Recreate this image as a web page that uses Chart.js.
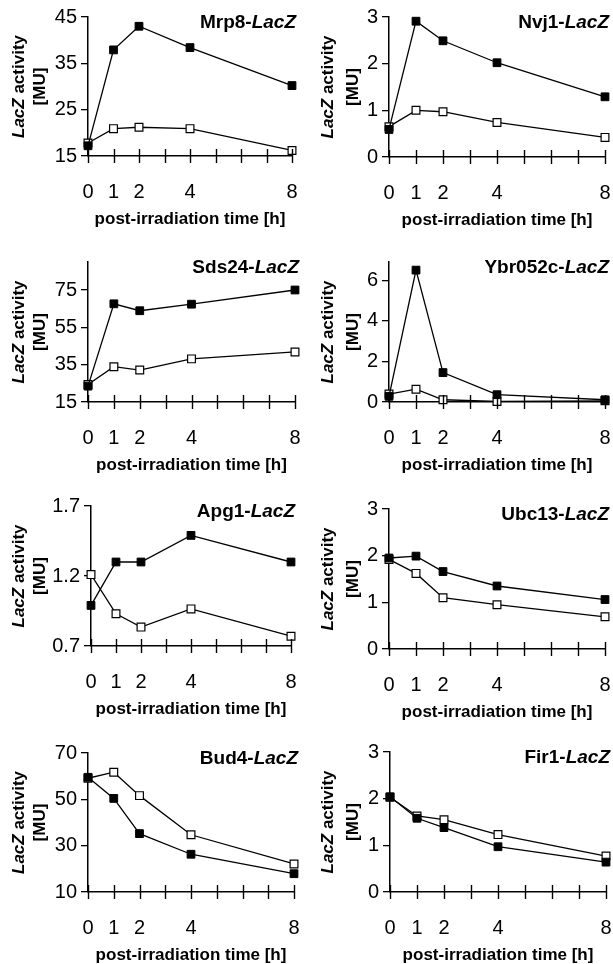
<!DOCTYPE html>
<html>
<head>
<meta charset="utf-8">
<script src="https://cdn.jsdelivr.net/npm/chart.js@4"></script>
<style>
  body { margin: 0; background: #fff; width: 613px; height: 964px; position: relative; overflow: hidden; }
  canvas { position: absolute; }
</style>
</head>
<body>
<script>
// time points and x ticks
const times = [0, 1, 2, 4, 8];
const xTickValues = [0, 1, 2, 3, 4, 5, 6, 7, 8];

// values (filled = black squares, open = white squares)
const mrp8Filled = [17.2, 37.9, 43.0, 38.4, 30.2];
const mrp8Open = [17.8, 20.9, 21.2, 20.9, 16.2];
const mrp8Ticks = [15, 25, 35, 45];

const nvj1Filled = [0.59, 2.91, 2.49, 2.02, 1.29];
const nvj1Open = [0.65, 1.0, 0.97, 0.74, 0.42];
const nvj1Ticks = [0, 1, 2, 3];

const sds24Filled = [23.5, 67.6, 63.9, 67.4, 75.0];
const sds24Open = [24.4, 33.9, 32.1, 38.1, 41.8];
const sds24Ticks = [15, 35, 55, 75];

const ybrFilled = [0.28, 6.5, 1.45, 0.36, 0.11];
const ybrOpen = [0.39, 0.63, 0.11, 0.03, 0.06];
const ybrTicks = [0, 2, 4, 6];

const apg1Filled = [0.99, 1.30, 1.30, 1.49, 1.30];
const apg1Open = [1.21, 0.93, 0.835, 0.965, 0.77];
const apg1Ticks = [0.7, 1.2, 1.7];

const ubc13Filled = [1.95, 1.99, 1.66, 1.35, 1.06];
const ubc13Open = [1.92, 1.62, 1.10, 0.95, 0.69];
const ubc13Ticks = [0, 1, 2, 3];

const bud4Filled = [59.5, 50.4, 35.2, 26.3, 17.9];
const bud4Open = [59.1, 61.7, 51.6, 34.7, 22.1];
const bud4Ticks = [10, 30, 50, 70];

const fir1Filled = [2.04, 1.58, 1.38, 0.97, 0.64];
const fir1Open = [2.03, 1.63, 1.55, 1.23, 0.77];
const fir1Ticks = [0, 1, 2, 3];

const FONT = '"Liberation Sans", Arial, Helvetica, sans-serif';

// panel layout (pixel positions of each plot area)
const panels = [
  { gene: 'Mrp8', filled: mrp8Filled, open: mrp8Open, ticks: mrp8Ticks, max: 45, col: 0, left: 88, right: 292, top: 17, bottom: 156 },
  { gene: 'Nvj1', filled: nvj1Filled, open: nvj1Open, ticks: nvj1Ticks, max: 3, col: 1, left: 389, right: 605, top: 15, bottom: 157 },
  { gene: 'Sds24', filled: sds24Filled, open: sds24Open, ticks: sds24Ticks, max: 90, col: 0, left: 88, right: 295, top: 260, bottom: 402 },
  { gene: 'Ybr052c', filled: ybrFilled, open: ybrOpen, ticks: ybrTicks, max: 6.9, col: 1, left: 389, right: 605, top: 261, bottom: 402 },
  { gene: 'Apg1', filled: apg1Filled, open: apg1Open, ticks: apg1Ticks, max: 1.7, col: 0, left: 91, right: 291, top: 505, bottom: 646 },
  { gene: 'Ubc13', filled: ubc13Filled, open: ubc13Open, ticks: ubc13Ticks, max: 3, col: 1, left: 389, right: 605, top: 504, bottom: 649 },
  { gene: 'Bud4', filled: bud4Filled, open: bud4Open, ticks: bud4Ticks, max: 70, col: 0, left: 88, right: 294, top: 753, bottom: 892 },
  { gene: 'Fir1', filled: fir1Filled, open: fir1Open, ticks: fir1Ticks, max: 3, col: 1, left: 390, right: 606, top: 751, bottom: 892 }
];

// crossing x tick marks, panel title and two-line y title
const decor = {
  id: 'decor',
  afterDraw(chart, args, opts) {
    const ctx = chart.ctx;
    const a = chart.chartArea;
    const x = chart.scales.x;
    ctx.save();
    ctx.strokeStyle = '#000';
    ctx.lineWidth = 1.4;
    xTickValues.forEach(v => {
      const px = Math.round(x.getPixelForValue(v)) + 0.5;
      ctx.beginPath();
      ctx.moveTo(px, a.bottom - 7);
      ctx.lineTo(px, a.bottom + 7);
      ctx.stroke();
    });

    ctx.fillStyle = '#000';
    ctx.textBaseline = 'middle';
    ctx.textAlign = 'left';
    const b19 = 'bold 19px ' + FONT, bi19 = 'italic bold 19px ' + FONT;
    ctx.font = bi19;
    const wLac = ctx.measureText('LacZ').width;
    ctx.font = b19;
    const pre = opts.gene + '-';
    const wPre = ctx.measureText(pre).width;
    const tr = a.right + 4, ty = a.top + 6;
    ctx.fillText(pre, tr - wLac - wPre, ty);
    ctx.font = bi19;
    ctx.fillText('LacZ', tr - wLac, ty);

    const b17 = 'bold 17px ' + FONT, bi17 = 'italic bold 17px ' + FONT;
    ctx.translate(opts.t1, (a.top + a.bottom) / 2);
    ctx.rotate(-Math.PI / 2);
    ctx.font = bi17;
    const w1 = ctx.measureText('LacZ').width;
    ctx.font = b17;
    const w2 = ctx.measureText(' activity').width;
    const start = -(w1 + w2) / 2;
    ctx.font = bi17;
    ctx.fillText('LacZ', start, 0);
    ctx.font = b17;
    ctx.fillText(' activity', start + w1, 0);
    ctx.textAlign = 'center';
    ctx.fillText('[MU]', 0, opts.t2 - opts.t1);
    ctx.restore();
  }
};

panels.forEach(p => {
  const cl = p.col === 0 ? 0 : 300;
  const cw = p.col === 0 ? 306 : 313;
  const ct = p.bottom - 156;
  const ch = 230;
  const cv = document.createElement('canvas');
  cv.width = cw; cv.height = ch;
  cv.style.left = cl + 'px';
  cv.style.top = ct + 'px';
  document.body.appendChild(cv);

  new Chart(cv, {
    type: 'line',
    data: {
      datasets: [
        {
          data: times.map((t, i) => ({ x: t, y: p.filled[i] })),
          borderColor: '#000', borderWidth: 1.3,
          pointStyle: 'rect', pointRadius: 5.5,
          pointBackgroundColor: '#000', pointBorderColor: '#000', pointBorderWidth: 1,
          clip: false, tension: 0
        },
        {
          data: times.map((t, i) => ({ x: t, y: p.open[i] })),
          borderColor: '#000', borderWidth: 1.3,
          pointStyle: 'rect', pointRadius: 5.5,
          pointBackgroundColor: '#fff', pointBorderColor: '#000', pointBorderWidth: 1.2,
          clip: false, tension: 0
        }
      ]
    },
    options: {
      responsive: false,
      animation: false,
      layout: { padding: { top: p.top - ct, right: cw - (p.right - cl), left: 0, bottom: 0 } },
      plugins: {
        legend: { display: false },
        tooltip: { enabled: false },
        decor: { gene: p.gene, t1: p.col === 0 ? 19 : 28, t2: p.col === 0 ? 40 : 53 }
      },
      scales: {
        x: {
          type: 'linear', min: 0, max: 8,
          afterBuildTicks: s => { s.ticks = xTickValues.map(v => ({ value: v })); },
          afterFit: s => { s.height = ch - (p.bottom - ct); },
          grid: { display: true, drawOnChartArea: false, drawTicks: true, tickLength: 24, tickColor: 'rgba(0,0,0,0)' },
          border: { display: true, color: '#000', width: 1.5 },
          ticks: {
            autoSkip: false, maxRotation: 0, padding: 0, color: '#000',
            font: { family: FONT, size: 20 },
            callback: v => times.includes(v) ? String(v) : ''
          },
          title: {
            display: true, text: 'post-irradiation time [h]', color: '#000',
            font: { family: FONT, size: 17, weight: 'bold' },
            padding: { top: 0, bottom: 0 }
          }
        },
        y: {
          type: 'linear', min: p.ticks[0], max: p.max,
          afterBuildTicks: s => { s.ticks = p.ticks.map(v => ({ value: v })); },
          afterFit: s => { s.width = p.left - cl; },
          grid: { display: true, drawOnChartArea: false, drawTicks: true, tickLength: 7, color: '#000', lineWidth: 1.3 },
          border: { display: true, color: '#000', width: 1.5 },
          ticks: { autoSkip: false, padding: 4, color: '#000', font: { family: FONT, size: 20 } }
        }
      }
    },
    plugins: [decor]
  });
});
</script>
</body>
</html>
